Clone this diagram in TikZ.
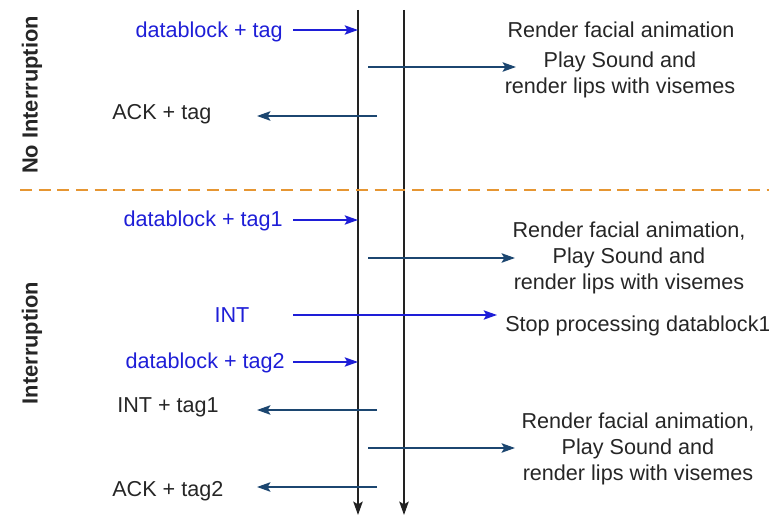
\documentclass[tikz,border=0pt]{standalone}
\usepackage{fontspec}
\setmainfont{Liberation Sans}
\usetikzlibrary{arrows.meta}
\definecolor{msgblue}{RGB}{30,30,215}
\definecolor{ackblue}{RGB}{28,70,112}
\definecolor{lifegray}{RGB}{34,34,34}
\definecolor{cutorange}{RGB}{230,150,50}
\tikzset{
  lbl/.style={font=\fontsize{16.2}{19.5}\selectfont,text=black!85,inner sep=0pt},
  msg/.style={lbl,text=msgblue},
  info/.style={lbl,align=center},
  side/.style={lbl,rotate=90,font=\fontsize{16.4}{19.5}\selectfont\bfseries},
  life/.style={->,lifegray,line width=1.5pt},
  send/.style={->,msgblue,line width=1.2pt},
  reply/.style={->,ackblue,line width=1.5pt}
}
\begin{document}
\begin{tikzpicture}[>={Stealth[length=10pt,width=7pt,inset=2pt]},x=0.75pt,y=-0.75pt]
\useasboundingbox(0,0)rectangle(769,531);
% lifelines
\coordinate(l1top)at(358,10);\coordinate(l1bot)at(358,515);
\coordinate(l2top)at(404,10);\coordinate(l2bot)at(404,515);
\draw[life](l1top)--(l1bot);
\draw[life](l2top)--(l2bot);
\coordinate(cutL)at(20,190);\coordinate(cutR)at(769,190);
\draw[cutorange,line width=1.5pt,dash pattern=on 9pt off 5pt](cutL)--(cutR);
\node[side](noint)at(32,95){No Interruption};
\node[side](int)at(32,343){Interruption};
% no interruption
\node[msg,anchor=east](m1)at(283,32){datablock + tag};
\coordinate(s1)at(293,30);
\draw[send](s1)--(s1-|l1top);
\node[info](r1)at(621,30){Render facial animation};
\node[info](r2)at(620,75){Play Sound and\\render lips with visemes};
\coordinate(a1)at(368,67);\coordinate(b1)at(516,67);
\draw[reply](a1)--(b1);
\node[lbl,anchor=west](ack1)at(112,114){ACK + tag};
\coordinate(a2)at(377,116);\coordinate(b2)at(257,116);
\draw[reply](a2)--(b2);
% interruption
\node[msg,anchor=east](m2)at(283,221){datablock + tag1};
\coordinate(s2)at(293,220);
\draw[send](s2)--(s2-|l1top);
\node[info](r3)at(629,258){Render facial animation,\\Play Sound and\\render lips with visemes};
\coordinate(a3)at(368,258);\coordinate(b3)at(515,258);
\draw[reply](a3)--(b3);
\node[msg](m3)at(232,315){INT};
\coordinate(s3)at(293,315);\coordinate(e3)at(497,315);
\draw[send](s3)--(e3);
\node[lbl,anchor=west](stop)at(505,326){Stop processing datablock1};
\node[msg,anchor=east](m4)at(285,363){datablock + tag2};
\coordinate(s4)at(293,362);
\draw[send](s4)--(s4-|l1top);
\node[lbl,anchor=west](int1)at(117,407){INT + tag1};
\coordinate(a4)at(377,410);\coordinate(b4)at(257,410);
\draw[reply](a4)--(b4);
\node[info](r4)at(638,449){Render facial animation,\\Play Sound and\\render lips with visemes};
\coordinate(a5)at(368,448);\coordinate(b5)at(515,448);
\draw[reply](a5)--(b5);
\node[lbl,anchor=west](ack2)at(112,491){ACK + tag2};
\coordinate(a6)at(377,487);\coordinate(b6)at(257,487);
\draw[reply](a6)--(b6);
\end{tikzpicture}
\end{document}
